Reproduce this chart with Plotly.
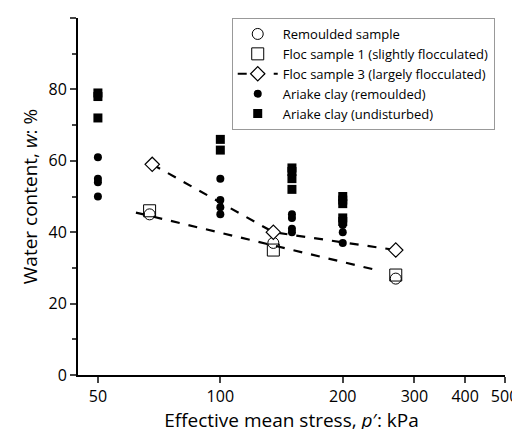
import plotly.graph_objects as go

x_rem = [67, 135, 270]; y_rem = [45, 37, 27]
x_f1 = [67, 135, 270]; y_f1 = [46, 35, 28]
x_f3 = [68, 135, 270]; y_f3 = [59, 40, 35]
x_fit = [62, 240]; y_fit = [45.5, 29.5]
x_ar = [50]*4 + [100]*4 + [150]*4 + [200]*3
y_ar = [61, 55, 54, 50, 55, 49, 47, 45, 45, 44, 41, 40, 42, 40, 37]
x_au = [50]*3 + [100]*2 + [150]*4 + [200]*5
y_au = [79, 78, 72, 66, 63, 58, 57, 55, 52, 50, 49, 48, 44, 43]

fig = go.Figure()
fig.add_trace(go.Scatter(x=x_fit, y=y_fit, mode="lines", line=dict(color="black", dash="dash", width=2.2), showlegend=False))
fig.add_trace(go.Scatter(x=x_rem, y=y_rem, mode="markers", name="Remoulded sample",
    marker=dict(symbol="circle-open", size=11, color="black", line=dict(width=1))))
fig.add_trace(go.Scatter(x=x_f1, y=y_f1, mode="markers", name="Floc sample 1 (slightly flocculated)",
    marker=dict(symbol="square-open", size=12, color="black", line=dict(width=1))))
fig.add_trace(go.Scatter(x=x_f3, y=y_f3, mode="markers+lines", name="Floc sample 3 (largely flocculated)",
    line=dict(color="black", dash="dash", width=2.2),
    marker=dict(symbol="diamond", size=11, color="white", line=dict(width=1.2, color="black"))))
fig.add_trace(go.Scatter(x=x_ar, y=y_ar, mode="markers", name="Ariake clay (remoulded)",
    marker=dict(symbol="circle", size=8, color="black")))
fig.add_trace(go.Scatter(x=x_au, y=y_au, mode="markers", name="Ariake clay (undisturbed)",
    marker=dict(symbol="square", size=9, color="black")))

fig.update_layout(
    width=520, height=429, plot_bgcolor="white", paper_bgcolor="white",
    margin=dict(l=70, r=18, t=10, b=59),
    font=dict(family="Open Sans", size=16, color="black"),
    legend=dict(x=0.36, y=1.0, xanchor="left", yanchor="top", bordercolor="#999", borderwidth=1,
                font=dict(size=13), tracegroupgap=0, itemwidth=40),
)
fig.update_xaxes(type="log", range=[1.65, 2.7], tickvals=[50, 100, 200, 300, 400, 500],
    showgrid=False, showline=True, linecolor="black", linewidth=2, ticks="outside", ticklen=6,
    tickwidth=1.5, title=dict(text="Effective mean stress, <i>p</i>′: kPa", standoff=6), zeroline=False)
fig.update_yaxes(range=[0, 100], dtick=20, showgrid=False, showline=True, linecolor="black", linewidth=2,
    ticks="outside", ticklen=6, tickwidth=1.5, minor=dict(dtick=10, ticks="outside", ticklen=4),
    title=dict(text="Water content, <i>w</i>: %", standoff=6), zeroline=False)
fig.write_html("out.html")
